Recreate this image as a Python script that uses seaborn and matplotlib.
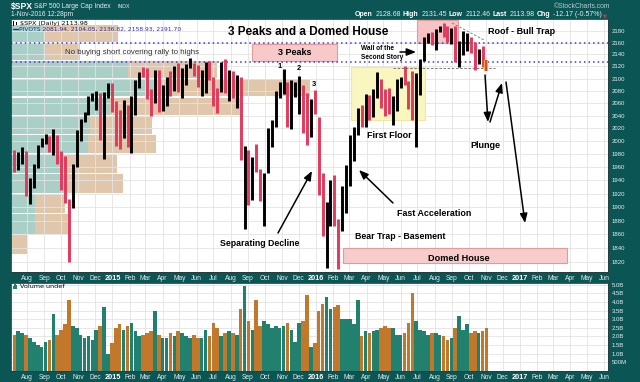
import numpy as np
import pandas as pd
import matplotlib
matplotlib.use("Agg")
import matplotlib.pyplot as plt
import matplotlib.dates as mdates
import matplotlib.patheffects as pe
from matplotlib.patches import Rectangle
from matplotlib.ticker import NullLocator
import seaborn as sns

# ------------------------------------------------------------------ data
# weekly bars (week ending Friday), S&P 500
week_ends = pd.date_range("2014-07-11", "2016-11-04", freq="W-FRI")
close_before_first_week = 1985.4

weekly_high = [
    1985.6, 1983.9, 1991.4, 1984.8, 1942.9, 1964.0, 1994.0, 2005.0, 2011.2, 2007.7,
    2019.3, 2009.1, 1985.2, 1977.6, 1912.0, 1965.3, 2018.2, 2034.3, 2046.2, 2071.5,
    2075.8, 2079.5, 2075.8, 2077.8, 2093.6, 2092.7,
    2064.4, 2049.3, 2064.6, 2057.6, 2072.4, 2097.0, 2110.6, 2119.6, 2117.5, 2083.5,
    2114.9, 2114.9, 2089.8, 2102.6, 2111.9, 2120.9, 2125.9, 2117.7, 2123.9, 2134.7,
    2126.2, 2121.9, 2115.0, 2126.7, 2129.9, 2102.6, 2085.0, 2127.0, 2132.8, 2114.2,
    2112.7, 2105.4, 2103.5, 1993.0, 1987.0, 1975.0, 1996.0, 1957.0, 1951.4, 2020.9,
    2033.5, 2079.7, 2094.3, 2116.5, 2093.8, 2097.1, 2094.1, 2104.3, 2090.4, 2076.7,
    2067.6, 2081.6,
    2038.2, 1950.3, 1906.9, 1940.2, 1947.2, 1881.6, 1930.7, 1962.9, 2009.1, 2022.4,
    2052.4, 2056.6, 2075.1, 2074.0, 2083.8, 2111.1, 2099.9, 2083.4, 2084.9, 2071.9,
    2100.0, 2103.5, 2120.6, 2095.9, 2113.3, 2108.7, 2131.7, 2169.1, 2175.6, 2177.1,
    2182.9, 2187.7, 2193.8, 2187.9, 2184.9, 2187.9, 2163.3, 2180.0, 2175.3, 2169.6,
    2161.6, 2149.2, 2154.8, 2131.5]

weekly_low = [
    1952.9, 1955.6, 1965.0, 1916.4, 1904.8, 1928.9, 1958.0, 1990.5, 1995.0, 1983.9,
    1978.5, 1965.1, 1926.0, 1906.1, 1820.7, 1898.2, 1960.0, 2001.0, 2030.2, 2040.5,
    2064.0, 2049.6, 2002.3, 1972.6, 2069.0, 2046.0,
    1992.4, 1988.1, 2004.5, 1990.9, 1980.9, 2041.9, 2085.4, 2103.0, 2067.3, 2039.7,
    2061.1, 2045.5, 2048.4, 2056.0, 2072.4, 2079.2, 2077.8, 2067.9, 2089.2, 2117.5,
    2104.9, 2085.7, 2072.1, 2076.8, 2097.8, 2056.3, 2044.0, 2078.3, 2077.0, 2063.5,
    2067.9, 2052.1, 1970.9, 1867.0, 1903.1, 1910.2, 1953.0, 1908.8, 1871.9, 1951.4,
    1990.7, 2022.0, 2069.3, 2075.0, 2022.0, 2019.4, 2070.3, 2042.4, 2012.4, 1993.3,
    2005.9, 2043.6,
    1918.5, 1857.8, 1812.3, 1872.7, 1872.7, 1810.1, 1864.8, 1891.0, 1931.8, 1969.3,
    2009.1, 2022.5, 2022.5, 2033.8, 2038.0, 2068.7, 2052.3, 2039.5, 2043.1, 2025.9,
    2047.3, 2085.1, 2089.6, 2050.4, 2032.6, 1991.7, 2074.0, 2128.8, 2159.0, 2155.8,
    2147.6, 2177.9, 2168.5, 2160.4, 2157.1, 2127.8, 2119.1, 2139.6, 2145.0, 2142.6,
    2114.7, 2124.4, 2119.1, 2112.5]

weekly_close = [
    1967.6, 1978.2, 1978.3, 1925.2, 1931.6, 1955.1, 1988.4, 2003.4, 2007.7, 1985.5,
    2010.4, 1982.9, 1967.9, 1906.1, 1886.8, 1964.6, 2018.1, 2031.9, 2039.8, 2063.5,
    2067.6, 2075.4, 2002.3, 2070.7, 2088.8, 2058.2,
    2044.8, 2019.4, 2051.8, 1995.0, 2055.5, 2097.0, 2110.3, 2104.5, 2071.3, 2053.4,
    2108.1, 2061.0, 2067.0, 2102.1, 2081.2, 2117.7, 2108.3, 2116.1, 2122.7, 2126.1,
    2107.4, 2092.8, 2094.1, 2110.0, 2101.5, 2076.8, 2076.6, 2126.6, 2079.7, 2103.8,
    2077.6, 2091.5, 1970.9, 1988.9, 1921.2, 1961.1, 1958.0, 1931.3, 1951.4, 2014.9,
    2033.1, 2075.2, 2079.4, 2099.2, 2023.0, 2089.2, 2090.1, 2091.7, 2012.4, 2005.6,
    2061.0, 2043.9,
    1922.0, 1880.3, 1906.9, 1940.2, 1880.1, 1864.8, 1917.8, 1948.1, 2000.0, 2022.2,
    2049.6, 2035.9, 2072.8, 2047.6, 2080.7, 2091.6, 2065.3, 2057.1, 2046.6, 2052.3,
    2099.1, 2099.1, 2096.1, 2071.2, 2037.4, 2103.0, 2129.9, 2161.7, 2175.0, 2173.6,
    2182.9, 2184.1, 2183.9, 2169.0, 2180.0, 2127.8, 2139.2, 2164.7, 2168.3, 2153.7,
    2133.0, 2141.2, 2126.4, 2114.0]

weekly_volume_b = [
    2.1, 2.3, 2.2, 2.1, 1.9, 1.7, 1.5, 1.4, 1.7, 1.8, 3.3, 2.1, 2.4, 2.7, 4.1, 2.6,
    2.5, 2.1, 1.9, 2.0, 1.8, 2.4, 2.6, 3.7, 1.0, 1.6,
    2.5, 2.7, 2.4, 2.6, 2.8, 2.3, 2.0, 2.1, 2.2, 2.3, 3.5, 2.1, 1.9, 1.9, 2.2, 2.0,
    2.3, 2.2, 2.0, 1.9, 2.1, 1.9, 1.9, 2.4, 2.0, 2.8, 2.5, 2.0, 2.2, 2.3, 2.2, 2.1,
    3.6, 4.9, 2.9, 2.4, 4.1, 2.6, 2.9, 2.7, 2.5, 2.6, 2.5, 2.6, 2.8, 2.4, 1.7, 2.8,
    2.9, 4.4, 1.4, 1.6,
    3.5, 3.9, 4.3, 3.6, 3.7, 3.8, 3.0, 3.0, 3.0, 2.7, 4.1, 2.0, 2.3, 2.2, 2.3, 2.4,
    2.5, 2.6, 2.5, 2.5, 2.1, 2.1, 2.2, 2.8, 4.5, 2.9, 2.4, 2.3, 2.1, 2.2, 2.2, 2.1,
    2.0, 1.8, 1.9, 2.5, 3.2, 2.4, 2.7, 2.2, 2.3, 2.2, 2.3, 2.5]

# volume-by-price bands (30-point bins), relative volume
vbp_edges = [1830, 1860, 1890, 1920, 1950, 1980, 2010, 2040, 2070, 2100, 2130, 2160, 2190]
vbp_up_volume = [0.0, 2.4, 2.4, 5.6, 5.2, 7.7, 7.9, 9.9, 14.2, 11.7, 3.2, 3.2]
vbp_down_volume = [1.6, 3.5, 3.0, 5.6, 5.4, 6.8, 6.2, 13.0, 15.7, 8.9, 3.7, 7.5]

pivot_levels = [2128, 2159]

price_ticks = [1820, 1840, 1860, 1880, 1900, 1920, 1940, 1960, 1980, 2000,
               2020, 2040, 2060, 2080, 2100, 2120, 2140, 2160, 2180]
volume_ticks = [0.5, 1.0, 1.5, 2.0, 2.5, 3.0, 3.5, 4.0, 4.5, 5.0]
volume_tick_labels = ["500M", "1.0B", "1.5B", "2.0B", "2.5B", "3.0B", "3.5B", "4.0B", "4.5B", "5.0B"]
month_starts = pd.date_range("2014-08-01", "2017-06-01", freq="MS")
month_labels = [str(d.year) if d.month == 1 else d.strftime("%b") for d in month_starts]

# ------------------------------------------------------------------ style
sns.set_theme(style="white")
plt.rcParams["font.family"] = ["Liberation Sans", "DejaVu Sans"]

W, H = 640, 382
BG = "#0c5555"
TXT = "#e4eded"
RED = "#e3395c"
TEAL_V = "#22806f"
ORANGE_V = "#c2782a"

fig = plt.figure(figsize=(6.4, 3.82), dpi=100, facecolor=BG)
L, R = 11, 608
MT, MB = 19, 272
VT, VB = 283, 371
ax = fig.add_axes([L / W, 1 - MB / H, (R - L) / W, (MB - MT) / H])
axv = fig.add_axes([L / W, 1 - VB / H, (R - L) / W, (VB - VT) / H])

x_left = mdates.date2num(pd.Timestamp("2014-07-03"))
x_right = mdates.date2num(pd.Timestamp("2017-06-08"))

xs = mdates.date2num(week_ends - pd.Timedelta(days=2))
prev = [close_before_first_week] + weekly_close[:-1]
up = [c >= p for c, p in zip(weekly_close, prev)]

# ------------------------------------------------------------------ price panel
ax.set_yscale("log")
ax.set_facecolor("white")
ax.vlines(xs[:-1], weekly_low[:-1], weekly_high[:-1],
          colors=["black" if u else RED for u in up[:-1]], lw=2.1, zorder=3)
last = ax.vlines(xs[-1:], weekly_low[-1:], weekly_high[-1:], colors=[RED], lw=1.6, zorder=4)
last.set_path_effects([pe.Stroke(linewidth=3.0, foreground="#f2d000"), pe.Normal()])

# volume by price
ytr = ax.get_yaxis_transform()
span_px = R - L
for lo, hi, u, d in zip(vbp_edges[:-1], vbp_edges[1:], vbp_up_volume, vbp_down_volume):
    uf = u * 10 / span_px
    df_ = d * 10 / span_px
    ax.add_patch(Rectangle((0, lo + 1.0), uf, (hi - lo) - 2.0, transform=ytr,
                           facecolor="#a9cfc7", edgecolor="none", zorder=0.2))
    ax.add_patch(Rectangle((uf, lo + 1.0), df_, (hi - lo) - 2.0, transform=ytr,
                           facecolor="#e0c6ab", edgecolor="none", zorder=0.2))

for lvl in pivot_levels:
    ax.axhline(lvl, color="#3838e0", lw=1.1, ls=(0, (1, 2)), zorder=2.5)

ax.set_xlim(x_left, x_right)
ax.set_ylim(1806, 2200)
ax.set_yticks(price_ticks)
ax.set_yticklabels([str(t) for t in price_ticks])
ax.yaxis.set_minor_locator(NullLocator())
ax.set_axisbelow(True)
ax.grid(True, color="#e3e3e3", lw=0.6)


def style_axis(a):
    a.yaxis.tick_right()
    a.tick_params(axis="y", which="both", length=0, labelsize=4.3, labelcolor=TXT, pad=2.9)
    a.tick_params(axis="x", which="both", length=0, labelsize=4.8, labelcolor=TXT, pad=2.2)
    a.set_xticks(mdates.date2num(month_starts))
    a.set_xticklabels(month_labels)
    for lab in a.get_xticklabels():
        if lab.get_text().isdigit():
            lab.set_fontweight("bold")
            lab.set_fontsize(5.3)
            lab.set_color("white")
    for s in a.spines.values():
        s.set_color("#2e3a3a")
        s.set_linewidth(0.6)
    a.set_xlabel("")
    a.set_ylabel("")


style_axis(ax)

# ------------------------------------------------------------------ volume panel
vol_df = pd.DataFrame({"x": xs, "vol": weekly_volume_b,
                       "dir": ["up" if u else "down" for u in up]})
sns.barplot(data=vol_df, x="x", y="vol", hue="dir", native_scale=True, dodge=False,
            palette={"up": TEAL_V, "down": ORANGE_V}, width=0.92, saturation=1,
            errorbar=None, legend=False, linewidth=0, ax=axv, zorder=3)
axv.set_facecolor("white")
axv.set_xlim(x_left, x_right)
axv.set_ylim(0, 5.1)
axv.set_yticks(volume_ticks)
axv.set_yticklabels(volume_tick_labels)
axv.set_axisbelow(True)
axv.grid(True, color="#e3e3e3", lw=0.6)
style_axis(axv)

# ------------------------------------------------------------------ helpers
def axf(x, y):
    return ((x - L) / (R - L), (MB - y) / (MB - MT))


def box(x0, y0, x1, y1, fc, ec, z=1.5):
    a0 = axf(x0, y1)
    a1 = axf(x1, y0)
    ax.add_patch(Rectangle(a0, a1[0] - a0[0], a1[1] - a0[1], transform=ax.transAxes,
                           facecolor=fc, edgecolor=ec, lw=0.8, zorder=z))


def ftext(x, y, s, **kw):
    kw.setdefault("va", "center")
    kw.setdefault("ha", "center")
    return fig.text(x / W, 1 - y / H, s, **kw)


def arrow(x1, y1, x2, y2, lw=1.1):
    ax.annotate("", xy=(x2, H - y2), xycoords="figure pixels",
                xytext=(x1, H - y1), textcoords="figure pixels",
                arrowprops=dict(arrowstyle="-|>,head_length=0.55,head_width=0.22",
                                color="black", lw=lw, shrinkA=0, shrinkB=0,
                                mutation_scale=10),
                annotation_clip=False, zorder=6)


def pline(x1, y1, x2, y2, **kw):
    a = axf(x1, y1)
    b = axf(x2, y2)
    ax.plot([a[0], b[0]], [a[1], b[1]], transform=ax.transAxes, **kw)


# annotation boxes
box(252, 44, 337, 61, "#f7c9c9", "#e59a9a")
box(417, 20, 458, 43, "#f6c4c4", "#e59a9a")
box(343, 248, 567, 263, "#f7cccc", "#e59a9a")
box(351, 67, 425, 120, "#faf6c0", "#efe8a0", z=1.2)

pline(393, 67.8, 495, 67.8, color="#666666", lw=0.6, ls=(0, (3, 2)), zorder=2.6)
pline(452, 23, 484, 40, color="#777777", lw=0.6, ls=(0, (3, 2)), zorder=2.6)

B = dict(fontweight="bold", color="black", zorder=7)
ftext(308, 32, "3 Peaks and a Domed House", fontsize=8.5, **B)
ftext(295, 52.5, "3 Peaks", fontsize=6.5, **B)
ftext(65, 53, "No buying short covering rally to highs", fontsize=5.7, ha="left",
      color="#333333")
ftext(280, 67, "1", fontsize=5.4, **B)
ftext(299, 69, "2", fontsize=5.4, **B)
ftext(314, 84, "3", fontsize=5.4, **B)
ftext(361, 49, "Wall of the", fontsize=4.7, ha="left", **B)
ftext(361, 57.3, "Second Story", fontsize=4.7, ha="left", **B)
ftext(488, 32, "Roof - Bull Trap", fontsize=6.5, ha="left", **B)
ftext(389.5, 136, "First Floor", fontsize=6.5, **B)
ftext(260, 244, "Separating Decline", fontsize=6.3, **B)
ftext(400, 237, "Bear Trap - Basement", fontsize=6.3, **B)
ftext(434, 213, "Fast Acceleration", fontsize=6.4, **B)
ftext(485.5, 145, "Plunge", fontsize=6.5, **B)
ftext(458.5, 258.5, "Domed House", fontsize=6.6, **B)

arrow(400, 52, 416, 52)
arrow(278, 233, 312, 171)
arrow(393, 203, 359, 170)
arrow(485, 75, 488, 122)
arrow(490, 122, 502, 83)
arrow(506, 82, 525, 223)

# in-panel legends
ftext(20, 23, "$SPX (Daily) 2113.98", fontsize=4.6, ha="left", color="black",
      family="DejaVu Sans")
ftext(19, 29.2, "PIVOTS 2081.94, 2104.05, 2136.82, 2158.93, 2191.70", fontsize=4.3,
      ha="left", color="#2d2da8", family="DejaVu Sans")
fig.add_artist(plt.Line2D([13 / W, 18 / W], [1 - 29.2 / H, 1 - 29.2 / H], color="#2d2da8", lw=1.0))
fig.add_artist(Rectangle((13 / W, 1 - 25.5 / H), 1.4 / W, 5 / H, transform=fig.transFigure,
                         facecolor="black", edgecolor="none"))
fig.add_artist(Rectangle((15.5 / W, 1 - 25 / H), 1.4 / W, 3.5 / H, transform=fig.transFigure,
                         facecolor="black", edgecolor="none"))
ftext(20, 286.5, "Volume undef", fontsize=4.6, ha="left", color="black", family="DejaVu Sans")
for i, hgt in enumerate([3.0, 5.0, 4.0]):
    fig.add_artist(Rectangle(((12.5 + 1.8 * i) / W, 1 - 289 / H), 1.3 / W, hgt / H,
                             transform=fig.transFigure, facecolor=TEAL_V, edgecolor="none"))

# ------------------------------------------------------------------ header
ftext(11, 6, "$SPX", fontsize=6.2, ha="left", color="white", fontweight="bold")
ftext(34, 6, "S&P 500 Large Cap Index", fontsize=4.8, ha="left", color=TXT)
ftext(117, 6.3, "INDX", fontsize=3.8, ha="left", color=TXT)
ftext(11, 15, "1-Nov-2016 12:28pm", fontsize=4.8, ha="left", color=TXT)
ftext(610, 6, "\u00a9StockCharts.com", fontsize=4.9, ha="right", color="#b8cccc")

renderer = fig.canvas.get_renderer()
parts = [("Open", "bold"), ("2128.68", "normal"), ("High", "bold"), ("2131.45", "normal"),
         ("Low", "bold"), ("2112.46", "normal"), ("Last", "bold"), ("2113.98", "normal"),
         ("Chg", "bold"), ("-12.17 (-0.57%)", "normal")]
xcur = 601.5
for s, wgt in reversed(parts):
    t = ftext(xcur, 15, s, fontsize=5.0, ha="right", color="white" if wgt == "bold" else TXT,
              fontweight=wgt)
    bb = t.get_window_extent(renderer=renderer)
    xcur -= bb.width + (2.0 if wgt == "bold" else 2.6)
ftext(605, 15.5, "\u25bc", fontsize=3.6, color="#e83040", family="DejaVu Sans")

fig.savefig("out.png", dpi=100, facecolor=BG)
